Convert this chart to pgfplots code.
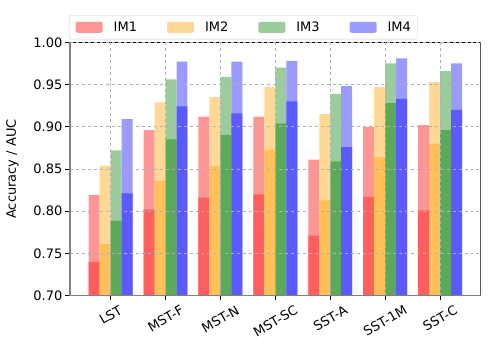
\documentclass[border=0pt]{standalone}
\usepackage{fontspec}
\setmainfont{DejaVu Sans}
\usepackage{pgfplots}
\usepackage{pgfplotstable}
\pgfplotsset{compat=1.18}

% light = AUC, dark = accuracy
\definecolor{lr}{RGB}{255,150,150}
\definecolor{dr}{RGB}{255,95,95}
\definecolor{lo}{RGB}{255,216,150}
\definecolor{do}{RGB}{255,192,90}
\definecolor{lg}{RGB}{155,204,155}
\definecolor{dg}{RGB}{90,170,90}
\definecolor{lb}{RGB}{155,155,255}
\definecolor{db}{RGB}{90,90,255}
\definecolor{gridc}{RGB}{176,176,176}
\definecolor{spine}{RGB}{128,128,128}

\pgfplotstableread{
x acc1  auc1  acc2  auc2  acc3  auc3  acc4  auc4
0 0.740 0.819 0.761 0.854 0.789 0.872 0.821 0.909
1 0.802 0.896 0.836 0.929 0.885 0.956 0.924 0.977
2 0.816 0.912 0.853 0.935 0.890 0.959 0.916 0.977
3 0.820 0.912 0.873 0.947 0.904 0.970 0.930 0.978
4 0.771 0.861 0.813 0.915 0.859 0.939 0.876 0.948
5 0.817 0.900 0.864 0.947 0.928 0.975 0.933 0.981
6 0.801 0.902 0.880 0.953 0.896 0.966 0.920 0.975
}\scores

\pgfplotsset{sqpatch/.style={legend image code/.code={\fill[##1,draw=none] (0bp,-5.5bp) rectangle (27bp,5.5bp);}}}

\begin{document}
\fontsize{13bp}{15.6bp}\selectfont
\begin{tikzpicture}
\begin{axis}[
    name=ax,
    scale only axis,
    width=410.7bp, height=253.4bp,
    ybar, bar width=0.2,
    xmin=-0.74, xmax=6.74,
    ymin=0.70, ymax=1.00,
    ytick={0.70,0.75,0.80,0.85,0.90,0.95,1.00},
    /pgf/number format/fixed,
    /pgf/number format/fixed zerofill,
    /pgf/number format/precision=2,
    /pgf/number format/assume math mode=true,
    xtick={0,...,6},
    xticklabels={\rotatebox{30}{LST},\rotatebox{30}{MST-F},\rotatebox{30}{MST-N},\rotatebox{30}{MST-SC},\rotatebox{30}{SST-A},\rotatebox{30}{SST-1M},\rotatebox{30}{SST-C}},
    xticklabel style={anchor=north, inner sep=0pt, yshift=-4.5bp},
    yticklabel style={anchor=east, inner sep=0pt, xshift=-3bp},
    axis lines*=left,
    axis line style={spine, line width=1.4bp},
    tick style={black, line width=1bp},
    tick align=outside,
    major tick length=4.5bp,
    xmajorgrids, ymajorgrids,
    grid style={gridc, dashed, line width=1bp},
    axis on top,
    every axis y label/.style={at={(rel axis cs:0,0.5)}, xshift=-57.5bp, rotate=90, anchor=center},
    ylabel={Accuracy / AUC},
    legend columns=4,
    legend style={at={(rel axis cs:0,1)}, anchor=south west, xshift=-1bp, yshift=3bp,
        draw=black!20, rounded corners=2bp, fill=white, inner xsep=6.5bp, inner ysep=5bp,
        nodes={inner xsep=0bp, inner ysep=1bp},
        /tikz/every odd column/.append style={column sep=11bp},
        /tikz/every even column/.append style={column sep=30bp}},
    legend cell align=left,
]
\addplot[fill=lr, draw=none, bar shift=-0.3, sqpatch] table[x=x, y=auc1] {\scores};
\addlegendentry{IM1}
\addplot[fill=lo, draw=none, bar shift=-0.1, sqpatch] table[x=x, y=auc2] {\scores};
\addlegendentry{IM2}
\addplot[fill=lg, draw=none, bar shift=0.1, sqpatch] table[x=x, y=auc3] {\scores};
\addlegendentry{IM3}
\addplot[fill=lb, draw=none, bar shift=0.3, sqpatch] table[x=x, y=auc4] {\scores};
\addlegendentry{IM4}
\addplot[fill=dr, draw=none, bar shift=-0.3, forget plot] table[x=x, y=acc1] {\scores};
\addplot[fill=do, draw=none, bar shift=-0.1, forget plot] table[x=x, y=acc2] {\scores};
\addplot[fill=dg, draw=none, bar shift=0.1, forget plot] table[x=x, y=acc3] {\scores};
\addplot[fill=db, draw=none, bar shift=0.3, forget plot] table[x=x, y=acc4] {\scores};
\draw[black, line width=1bp] (rel axis cs:0,1) -- (rel axis cs:1,1) -- (rel axis cs:1,0);
\end{axis}
\pgfresetboundingbox
\path ([xshift=-70bp,yshift=-60.3bp]ax.south west) rectangle ([xshift=17.3bp,yshift=42.3bp]ax.north east);
\end{tikzpicture}
\end{document}
